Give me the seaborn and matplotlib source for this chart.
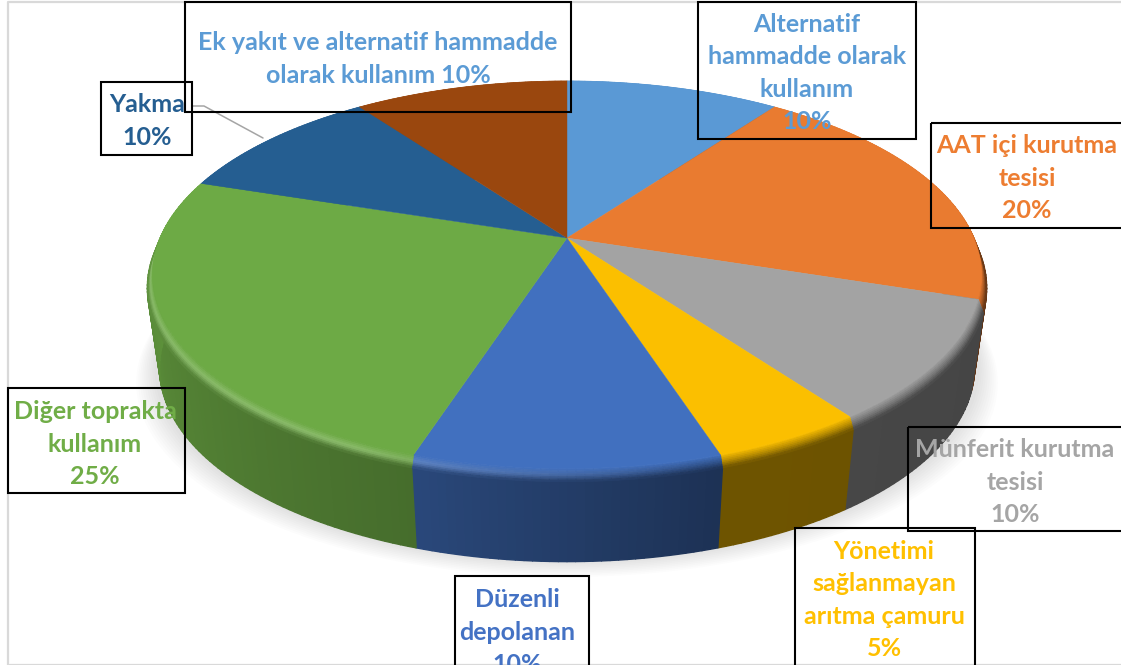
"""3D pie of sludge disposal routes, drawn in pixel coordinates of the 1121x669 frame."""
import matplotlib

matplotlib.use("Agg")
import matplotlib.pyplot as plt
import numpy as np
import pandas as pd
import seaborn as sns
from matplotlib.collections import PolyCollection
from matplotlib.patches import Rectangle

routes = ["Alternatif", "AAT ici", "Munferit", "Yonetimi", "Duzenli", "Diger", "Yakma", "Ek yakit"]
shares = [10, 20, 10, 5, 10, 25, 10, 10]
wedge_colors = ["#5A99D5", "#E97B30", "#A3A3A3", "#FBBF00", "#4170BF", "#6DAA45", "#255E91", "#9A470E"]
label_colors = ["#5B9BD5", "#ED7D31", "#A5A5A5", "#FFC000", "#4472C4", "#70AD47", "#255E91", "#5B9BD5"]
label_texts = [
    "Alternatif\nhammadde olarak\nkullanım\n10%",
    "AAT içi kurutma\ntesisi\n20%",
    "Münferit kurutma\ntesisi\n10%",
    "Yönetimi\nsağlanmayan\narıtma çamuru\n5%",
    "Düzenli\ndepolanan\n10%",
    "Diğer toprakta\nkullanım\n25%",
    "Yakma\n10%",
    "Ek yakıt ve alternatif hammadde\nolarak kullanım 10%",
]
# label box (left, top, right, bottom) and text centre, in frame pixels
label_boxes = [
    (698, 2, 916, 139), (931, 123, 1125, 228), (908, 427, 1125, 531), (795, 528, 975, 670),
    (455, 576, 589, 670), (8, 388, 185, 493), (101, 82, 192, 155), (185, 2, 571, 112),
]
label_centres = [
    (807, 73), (1027, 178), (1015, 482), (884, 600),
    (517, 632), (95, 444), (147, 121), (378, 59),
]

sns.set_theme(style="white")
plt.rcParams["font.family"] = ["Lato", "DejaVu Sans"]

df = pd.DataFrame({"route": routes, "share": shares})
df["end"] = df["share"].cumsum() / df["share"].sum() * 360
df["start"] = df["end"] - df["share"] / df["share"].sum() * 360
palette = sns.color_palette(wedge_colors)

CX, CY = 567, 238
PERSP = 0.19
RY = 186.8
RX_FACE, RX_BEVEL, RX_FOOT = 407.0, 412.0, 400.0
DY_BEVEL, DY_FOOT = 13.0, 93.0


def project(theta, rx=RX_FACE, dy=0.0):
    """Perspective map of a rim angle (clockwise from the back) to the frame."""
    t = np.radians(theta)
    w = 1 + PERSP * np.cos(t)
    return CX + rx * np.sin(t) / w, CY - RY * np.cos(t) / w + dy


def ring_quads(start, end, rx0, dy0, rx1, dy1):
    th = np.arange(start, end + 1.0, 1.0)
    th[-1] = end
    x0, y0 = project(th, rx0, dy0)
    x1, y1 = project(th, rx1, dy1)
    quads = [[(x0[i], y0[i]), (x0[i + 1], y0[i + 1]), (x1[i + 1], y1[i + 1]), (x1[i], y1[i])]
             for i in range(len(th) - 1)]
    return quads, (th[:-1] + th[1:]) / 2


def wall_factor(theta):
    return np.interp(theta, [100, 162, 198, 270, 300], [0.42, 0.44, 0.64, 0.86, 1.0])


def bevel_color(base, theta, t):
    """Colour across the bevel: t=0 top face, t=1 meets the wall."""
    base = np.array(base)
    wall = base * wall_factor(theta)
    light = np.interp(theta, [165, 205], [0, 1])
    peak = (base + (1 - base) * 0.2) * light + base * 0.75 * (1 - light)
    if t < 0.5:
        return base + (peak - base) * t * 2
    return peak + (wall - peak) * (t - 0.5) * 2


fig = plt.figure(figsize=(11.21, 6.69), dpi=100)
ax = fig.add_axes([0, 0, 1, 1])
ax.set_xlim(0, 1121)
ax.set_ylim(669, 0)
ax.axis("off")

# soft shadow under the disc
th_all = np.linspace(0, 360, 361)
for k in range(10):
    sx, sy = project(th_all, 405 + 2.0 * k, DY_FOOT + 1 + 1.6 * k)
    ax.fill(sx, sy, color="black", alpha=0.012, lw=0, zorder=1)

# side wall
for row, col in zip(df.itertuples(), palette):
    quads, mids = ring_quads(row.start, row.end, RX_BEVEL, DY_BEVEL, RX_FOOT, DY_FOOT)
    cols = [np.array(col) * wall_factor(m) for m in mids]
    ax.add_collection(PolyCollection(quads, facecolors=cols, edgecolors=cols, linewidths=1.0, zorder=2))

# bevel between top face and wall
N_BEVEL = 8
for row, col in zip(df.itertuples(), palette):
    for j in range(N_BEVEL):
        t0, t1 = j / N_BEVEL, (j + 1) / N_BEVEL
        quads, mids = ring_quads(row.start, row.end,
                                 RX_FACE + (RX_BEVEL - RX_FACE) * t0, DY_BEVEL * t0,
                                 RX_FACE + (RX_BEVEL - RX_FACE) * t1, DY_BEVEL * t1)
        cols = [bevel_color(col, m, (t0 + t1) / 2) for m in mids]
        ax.add_collection(PolyCollection(quads, facecolors=cols, edgecolors=cols, linewidths=0.6, zorder=3))

# top face
for row, col in zip(df.itertuples(), palette):
    th = np.arange(row.start, row.end + 0.5, 0.5)
    x, y = project(th)
    ax.fill(np.r_[CX, x], np.r_[CY, y], color=col, lw=0.3, zorder=4)

# leader line for Yakma
ax.plot([192, 204, 263], [106, 106, 138], color="#A5A5A5", lw=1.1, zorder=5)

# frame of the pasted picture
ax.plot([1121, 7.5, 7.5, 1121], [2, 2, 664.5, 664.5], color="#D9D9D9", lw=1.6, zorder=5)

for box, centre, text, color in zip(label_boxes, label_centres, label_texts, label_colors):
    left, top, right, bottom = box
    ax.add_patch(Rectangle((left, top), right - left, bottom - top, fill=False,
                           ec="black", lw=1.5, zorder=6))
    ax.text(centre[0], centre[1], text, color=color, ha="center", va="center", ma="center",
            fontsize=18, fontweight="bold", linespacing=1.5, zorder=7)

# picture is cut off at the bottom, text and boxes included
ax.add_patch(Rectangle((0, 665.2), 1121, 5, fc="white", ec="none", zorder=8))

fig.savefig("out.png", dpi=100)
